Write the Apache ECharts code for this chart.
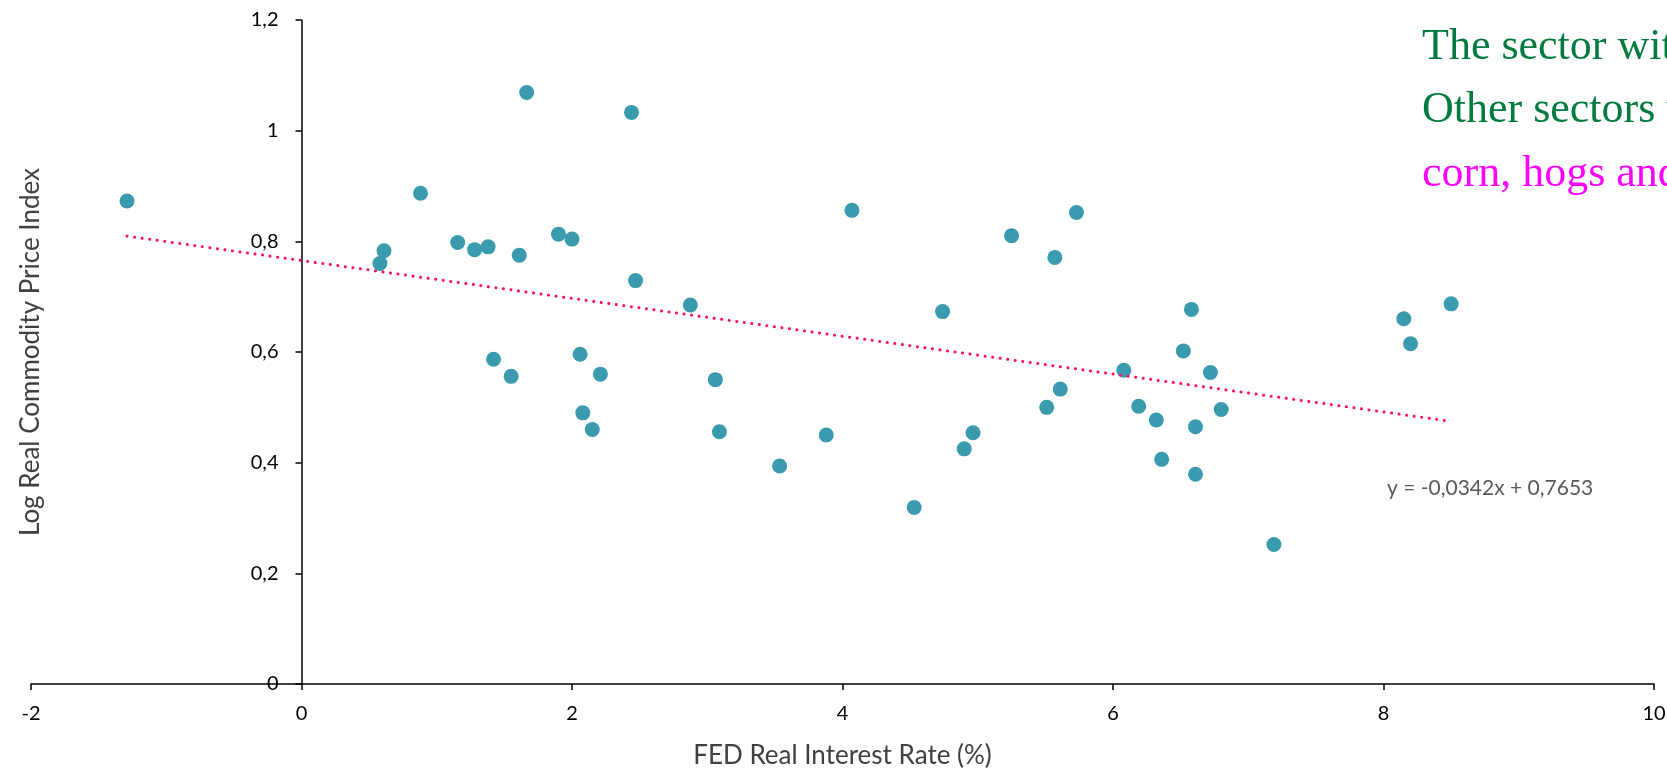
<!DOCTYPE html>
<html>
<head>
<meta charset="utf-8">
<script src="https://cdn.jsdelivr.net/npm/echarts@6/dist/echarts.min.js"></script>
<style>html,body{margin:0;padding:0;background:#fff;}#c{width:1667px;height:770px;}</style>
</head>
<body>
<div id="c"></div>
<script>
const rateX = [-1.29,0.58,0.61,0.88,1.155,1.28,1.38,1.42,1.55,1.61,1.665,1.90,2.00,2.06,2.08,2.15,2.21,2.44,2.47,2.875,3.06,3.09,3.535,3.88,4.07,4.53,4.74,4.90,4.965,5.25,5.51,5.57,5.61,5.73,6.08,6.19,6.32,6.36,6.52,6.58,6.61,6.61,6.72,6.80,7.19,8.15,8.20,8.50];
const priceY = [0.873,0.760,0.783,0.887,0.798,0.785,0.790,0.587,0.556,0.775,1.069,0.813,0.804,0.596,0.490,0.460,0.560,1.033,0.729,0.685,0.550,0.456,0.394,0.450,0.856,0.319,0.673,0.425,0.454,0.810,0.500,0.771,0.533,0.852,0.567,0.502,0.477,0.406,0.602,0.677,0.465,0.379,0.563,0.496,0.252,0.660,0.615,0.687];
const trendSlope = -0.0342;
const trendIntercept = 0.7653;
const equationLabel = 'y = -0,0342x + 0,7653';
const noteLines = ['The sector with', 'Other sectors with', 'corn, hogs and'];
const noteColors = ['#007A3D', '#007A3D', '#FF00FF'];
const xAxisName = 'FED Real Interest Rate (%)';
const yAxisName = 'Log Real Commodity Price Index';

const points = rateX.map((x, i) => [x, priceY[i]]);
const xMin = Math.min(...rateX), xMax = Math.max(...rateX);
const trend = [[xMin, trendSlope * xMin + trendIntercept], [xMax, trendSlope * xMax + trendIntercept]];
const fmt = v => String(v).replace('.', ',');

const W = 1667, gridLeft = 31, gridRight = 13;
const xAxisMin = -2, xAxisMax = 10;
// y axis crosses the x axis at x = 0
const yAxisShift = (0 - xAxisMin) / (xAxisMax - xAxisMin) * (W - gridLeft - gridRight);

const chart = echarts.init(document.getElementById('c'));
const axisFont = 'Lato, "Open Sans", sans-serif';
chart.setOption({
  animation: false,
  backgroundColor: '#fff',
  grid: { left: gridLeft, right: gridRight, top: 20, bottom: 86, containLabel: false, outerBoundsMode: 'none' },
  xAxis: {
    type: 'value', min: xAxisMin, max: xAxisMax, interval: 2,
    name: xAxisName, nameLocation: 'middle', nameGap: 59,
    nameTextStyle: { fontFamily: axisFont, fontSize: 26, color: '#404040' },
    axisLine: { onZero: true, lineStyle: { color: '#000', width: 1.5 } },
    axisTick: { show: true, length: 6, lineStyle: { color: '#000', width: 1.5 } },
    axisLabel: { formatter: fmt, margin: 20, fontFamily: axisFont, fontSize: 20, color: '#000' },
    splitLine: { show: false }
  },
  yAxis: {
    type: 'value', min: 0, max: 1.2, interval: 0.2,
    offset: -yAxisShift,
    name: yAxisName, nameLocation: 'middle', nameGap: 258,
    nameTextStyle: { fontFamily: axisFont, fontSize: 26, color: '#404040' },
    axisLine: { show: true, onZero: false, lineStyle: { color: '#000', width: 1.5 } },
    axisTick: { show: true, length: 6, lineStyle: { color: '#000', width: 1.5 } },
    axisLabel: { formatter: fmt, margin: 23, fontFamily: axisFont, fontSize: 20, color: '#000' },
    splitLine: { show: false }
  },
  graphic: noteLines.map((t, i) => ({
    type: 'text', left: 1422, top: 25 + i * 63.5,
    style: { text: t, fill: noteColors[i], font: '44px "Liberation Serif", "Times New Roman", serif' }
  })).concat([{
    type: 'text', left: 1387, top: 478,
    style: { text: equationLabel, fill: '#595959', font: '21px Lato, "Open Sans", sans-serif' }
  }]),
  series: [
    {
      type: 'scatter', data: points, symbolSize: 15, z: 2,
      itemStyle: { color: '#3A9BAE', opacity: 1 }
    },
    {
      type: 'line', data: trend, symbol: 'none', z: 3, silent: true,
      lineStyle: { color: '#FF0F6A', width: 3, type: [0.1, 7.5], cap: 'round' }
    }
  ]
});
</script>
</body>
</html>
